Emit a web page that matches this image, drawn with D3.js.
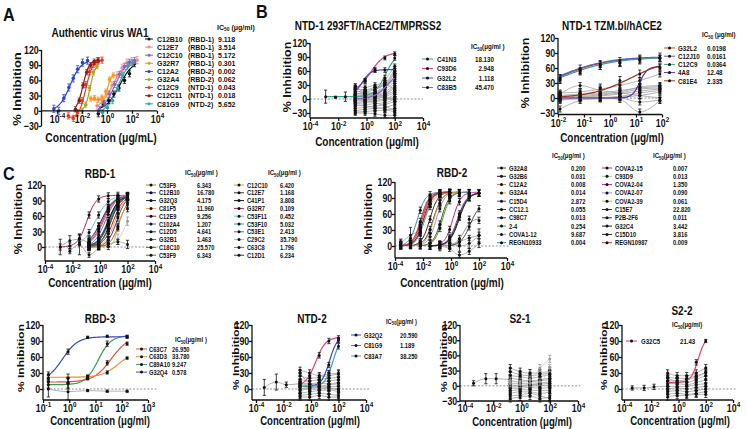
<!DOCTYPE html>
<html><head><meta charset="utf-8">
<script src="https://cdn.jsdelivr.net/npm/d3@7"></script>
<style>
body{margin:0;background:#fff;}
svg{display:block;font-family:"Liberation Sans",Arial,Helvetica,sans-serif;font-weight:bold;}
</style></head><body>
<svg id="c" width="747" height="429"></svg>
<script>
// ================= DATA =================
// shared dilution columns (μg/ml)
const dil5 = [0.16, 0.8, 4, 20, 100];
const dil8 = [0.00128, 0.0064, 0.032, 0.16, 0.8, 4, 20, 100];
const dil9 = [0.000256, 0.00128, 0.0064, 0.032, 0.16, 0.8, 4, 20, 100];
const tzmConc = [0.012, 0.071, 0.42, 2.4, 14, 83];
const rbd3Conc = [0.16, 0.9, 5, 28, 160];
const lowConc = [0.0004, 0.003, 0.016, 0.16];

// ---- Panel A: authentic virus WA1 ----
const aNames = ["C12B10","C12E7","C12C10","G32R7","C12A2","G32A4","C12C9","C12C11","C81G9"];
const aEpitope = ["(RBD-1)","(RBD-1)","(RBD-1)","(RBD-1)","(RBD-2)","(RBD-2)","(NTD-1)","(NTD-1)","(NTD-2)"];
const aIC50 = ["9.118","3.514","5.172","0.301","0.002","0.062","0.043","0.018","5.652"];
const aColors = ["#111111","#f08c8c","#7a6ad0","#f29a1e","#2a45c8","#a3a820","#e5391e","#8a1e12","#3aa3a3"];
const aBottom = [0,0,0,22,0,0,-14,0,-5];
const aTop = [100,102,102,72,100,92,100,100,100];
const aEC50 = [10,2.8,4.5,1.2,0.0011,0.045,0.02,0.012,7.1];
const aHill = [0.8,0.8,0.9,3,1.0,2.2,1.6,1.8,0.95];
const aConc = [
  [0.2,0.5,1.4,3.5,9,25,63,160],
  [0.16,0.4,1,2.5,6.3,16,40,100,250],
  [0.25,0.63,1.6,4,10,25,63,160],
  [0.05,0.1,0.2,0.4,0.8,1.6,3.2],
  [0.000056,0.00014,0.00035,0.00089,0.002,0.0045,0.011,0.028],
  [0.01,0.02,0.04,0.08,0.16],
  [0.0008,0.002,0.0045,0.01,0.02,0.04,0.089,0.2,0.4],
  [0.003,0.006,0.012,0.024,0.048,0.096,0.19],
  [0.45,1.1,2.8,7,18,45,112]
];
const aVals = [
  [-6,14,20,33,45,60,73,93],
  [10,22,33,50,70,85,95,98,100],
  [3,15,33,52,72,88,96,99],
  [24,25,22,26,38,62,70],
  [4,0,25,46,64,82,95,99],
  [0,12,45,76,88],
  [-10,-15,-4,20,52,77,92,98,100],
  [3,20,50,76,90,97,100],
  [-4,6,20,45,70,88,95]
];
const aSd = [6,7,6,5,7,5,6,5,6];

// ---- Panel B left: NTD-1 293FT/hACE2/TMPRSS2 ----
const bLNames = ["C41N3","C93D6","G32L2","C83B5"];
const bLIC50 = ["18.130","2.948","1.118","45.470"];
const bLColors = ["#3aa38c","#e0407a","#4a48c8","#8a64c8"];
const bLBottom = [5,15,5,0];
const bLTop = [100,100,63,62];
const bLEC50 = [22,2,0.45,32];
const bLHill = [1.1,0.9,1.4,0.9];
const bLConc = [dil8, dil5, dil5, dil5];
const bLVals = [[5,4,5,3,8,20,45,88],[25,40,62,88,97],[15,38,62,62,55],[0,5,18,35,52]];
const bLSd = [[14,2,10,5,5,6,6,5],4,5,6];
const bLGray = [
  [28,25,30,35,65],[22,20,25,32,60],[15,18,22,30,48],[12,12,15,25,42],[8,10,12,20,38],
  [5,8,10,15,33],[3,5,8,12,28],[0,2,5,10,24],[-3,0,3,8,18],[-5,-2,0,5,14],
  [-8,-5,-3,0,10],[-10,-8,-5,-3,5],[-15,-12,-10,-8,0],[-20,-18,-15,-12,-5],[-25,-22,-20,-18,-12],
  [-28,-27,-25,-24,-20],[-30,-30,-32,-35,-35],[5,5,10,40,70],[0,3,8,28,55],[10,15,20,30,20],
  [18,12,6,2,-2],[25,15,10,5,0],[-12,-15,-18,-22,-28],[2,-3,-8,-15,-25]
];

// ---- Panel B right: NTD-1 TZM.bl/hACE2 ----
const bRNames = ["G32L2","C12J10","C12C9","4A8","C81E4"];
const bRIC50 = ["0.0198","0.0161","0.0364","12.48","2.335"];
const bRColors = ["#e0481e","#5c5cd0","#3aa08c","#5a2fb0","#a0361a"];
const bRBottom = [0,0,0,0,0];
const bRTop = [82,83,82,63,80];
const bREC50 = [0.01,0.0089,0.0126,14,6.3];
const bRHill = [0.45,0.45,0.42,3,0.55];
const bRVals = [[40,55,67,70,78,80],[38,57,66,72,77,81],[36,52,63,70,76,79],[0,2,0,2,28,62],[5,8,20,35,48,60]];
const bRSd = [6,9,6,6,8];
const bRGray = [
  [10,12,18,25,35,48],[5,8,10,15,20,23],[0,3,6,10,18,20],[2,2,4,8,14,18],[-5,0,1,3,10,15],
  [0,1,0,-3,-28,-5],[-3,-2,-2,0,-8,-4],[3,5,8,12,22,25],[-22,-5,0,2,5,12],[8,25,15,10,5,0]
];

// ---- Panel C: RBD-1 ----
const r1Names = ["C53F9","C12B10","G32Q3","C81F5","C12E9","C102A4","C12D5","G32B1","C18C10","C53F9",
                 "C12C10","C12E7","C41P1","G32R7","C53F11","C53F10","C53E1","C29C2","C63C8","C12D1"];
const r1IC50 = ["6.343","16.780","4.175","11.960","9.256","1.207","4.641","1.463","25.570","6.343",
                "6.420","1.168","3.808","0.109","0.452","5.032","2.413","35.790","1.796","6.234"];
const r1Colors = ["#c87a28","#2b2f8f","#1a1a1a","#f0a040","#8e1b1b","#3d6fd6","#1f2d6e","#c2207f","#b24a22","#6b6b1e",
                  "#d8a838","#3a3a3a","#111111","#b01e5a","#74b6e6","#2f97a6","#4466cc","#cdb850","#e04848","#24357a"];
const r1EC50 = [6.3,16.6,4.2,12,9.3,1.2,4.7,1.5,25,6.3,6.5,1.17,3.8,0.11,0.46,5.0,2.4,20,1.8,6.2];
const r1Top = [100,100,100,98,100,100,100,100,95,100,100,100,100,100,100,100,100,75,100,100];
const r1Hill = [1.2,1.3,1.2,1.3,1.2,1.0,1.1,1.0,1.4,1.3,1.2,0.9,1.1,1.3,0.9,1.1,1.1,2.5,1.0,1.2];
const r1Start = [3,3,3,3,3,3,3,3,3,3,3,3,3,0,2,3,3,3,3,3];
const r1Vals = [
  [2,8,35,80,97],[0,2,14,56,91],[2,12,48,87,98],[1,3,19,65,92],[0,5,26,72,95],
  [12,40,77,94,99],[2,12,46,83,97],[10,35,73,93,99],[0,1,7,40,83],[1,7,35,82,98],
  [1,8,36,79,96],[14,41,75,93,98],[3,15,51,86,97],[0,2,17,62,93,99,100,100],[8,28,62,88,97,99],
  [2,11,44,82,96],[5,23,63,91,98],[0,0,1,37,74],[8,31,69,92,98],[1,8,36,80,96]
];
const r1GrayConc = [[0.00128,0.0064,0.032,0.16,0.8],[0.0064,0.032,0.16,0.8],dil5,dil5];
const r1GrayVals = [[0,12,15,8,5],[-8,5,-15,0],[0,2,5,15,50],[3,0,5,10,5]];
const r1GraySd = [[15,10,10,8,5],[5,20,5,5],[4,5,5,10,8],[5,5,5,5,8]];

// ---- Panel C: RBD-2 ----
const r2Names = ["G32A8","G32B6","C12A2","G32A4","C15D4","CC12.1","C98C7","2-4","COVA1-12","REGN10933",
                 "COVA2-15","C93D9","COVA2-04","COVA2-07","COVA2-39","C15E7","P2B-2F6","G32C4","C15D10","REGN10987"];
const r2IC50 = ["0.200","0.031","0.008","0.014","2.872","0.055","0.013","0.254","9.687","0.004",
                "0.007","0.013","1.350","0.090","0.061","22.820","0.011","3.442","3.816","0.009"];
const r2Colors = ["#4a4a20","#222222","#c8782a","#ee9438","#5b2fa6","#6e1c3c","#1e2c70","#3c9c3c","#8c8c8c","#2f8bb5",
                  "#d0205c","#a9c2a2","#c21e84","#9c92d4","#cbb236","#333333","#2e2e55","#1a1a1a","#262626","#d23232"];
const r2EC50 = [0.2,0.031,0.008,0.014,2.9,0.055,0.013,0.25,8,0.004,0.007,0.013,1.35,0.09,0.061,23,0.011,3.4,3.8,0.009];
const r2Top = [101,101,101,100,100,101,101,101,52,101,101,101,101,101,101,80,101,100,100,101];
const r2Hill = [1.5,1.5,1.5,1.3,1.3,1.4,1.5,1.5,1.5,1.5,1.5,1.5,1.5,1.5,1.5,1.3,1.5,1.3,1.3,1.5];
const r2Start = [2,1,0,0,3,1,0,2,4,0,0,0,3,2,1,5,0,3,3,0];
const r2Vals = [
  [1,6,41,89,99,100],[1,8,50,92,99,100],[3,8,38,88,100,101],[5,4,26,74,96,100],[0,2,16,60,92,99],
  [1,5,31,81,98,100],[0,3,26,80,98,100],[0,4,33,85,98,100],[0,2,14,50,48],[2,15,67,96,100,100],
  [1,7,46,91,99,100],[2,5,28,78,97,100],[0,4,31,83,98,100],[2,17,70,96,100,100],[1,4,24,79,97,100],
  [1,7,36,70],[0,3,24,78,97,100],[0,2,13,56,91,99],[0,2,12,54,90,99],[1,5,35,87,99,100]
];
const r2GrayConc = [dil5, dil5, [0.000256,0.00128,0.0064], dil5];
const r2GrayVals = [[0,-5,-17,-10,5],[-3,5,0,5,20],[5,20,28],[3,0,8,15,20]];
const r2GraySd = [[5,5,5,6,8],[6,8,10,10,12],[8,15,15],[5,5,5,5,6]];

// ---- RBD-3 ----
const r3Names = ["C63C7","C63D3","C89A10","G32Q4"];
const r3IC50 = ["26.950","33.780","9.247","0.578"];
const r3Colors = ["#e8502a","#f08a30","#3a9a5a","#3a48b8"];
const r3Bottom = [13,22,8,15];
const r3Top = [100,70,100,98];
const r3EC50 = [40,71,12.6,0.56];
const r3Hill = [1.3,1.4,1.8,1.5];
const r3Vals = [[13,12,22,49,85],[20,20,22,31,58],[8,10,21,85,98],[27,70,97,99,98]];
const r3Sd = [[5,10,4,4,3],[5,8,4,3,2],[6,10,4,5,3],[5,5,2,2,2]];
const r3GrayVals = [[0,-5,-3,-4,-4]];
const r3GraySd = [[15,15,2,2,2]];

// ---- NTD-2 ----
const n2Names = ["G32Q2","C81G9","C83A7"];
const n2IC50 = ["20.590","1.189","38.250"];
const n2Colors = ["#3a48c8","#e0407a","#40a0a0"];
const n2Bottom = [5,5,5];
const n2Top = [100,97,100];
const n2EC50 = [22,2.2,40];
const n2Hill = [1.5,1.2,1.5];
const n2Vals = [[8,5,12,45,92],[10,25,63,90,95],[5,3,8,30,80]];
const n2GrayLow = [3,13,8,10];
const n2GrayLowSd = [15,15,5,5];
const n2Gray = [[35,30,25,28,30],[25,20,22,25,28],[18,15,18,20,22],[12,10,12,15,18],[8,8,10,10,12],
  [5,3,5,8,10],[0,2,3,5,5],[-3,0,0,2,0],[-8,-5,-3,-2,-5],[-12,-10,-8,-10,-12],[-15,-15,-12,-15,-15],[30,10,5,2,-2]];

// ---- S2-1 ----
const s1GrayLow = [5,14,14,12];
const s1GrayLowSd = [5,10,10,8];
const s1Gray = [[35,28,25,25,30],[28,22,20,22,25],[20,18,15,18,22],[15,12,10,12,15],[10,8,8,10,12],
  [5,5,3,5,8],[2,0,2,3,5],[-2,-2,0,0,2],[-5,-5,-3,-5,-3],[-10,-8,-8,-10,-8],[-15,-12,-12,-15,-12],
  [-20,-18,-15,-20,-25],[-25,-22,-20,-25,-22],[10,8,12,35,53],[5,3,5,8,35]];

// ---- S2-2 ----
const s2Names = ["G32C5"];
const s2IC50 = ["21.43"];
const s2Colors = ["#e0407a"];
const s2Bottom = [12], s2Top = [100], s2EC50 = [28], s2Hill = [1.6];
const s2Vals = [[15,12,15,50,90]];
const s2GrayLow = [2,2,4,5];
const s2GrayLowSd = [4,5,5,8];
const s2Gray = [[30,25,25,30,40],[22,20,20,25,30],[15,15,12,18,25],[10,10,8,12,18],[5,5,5,8,10],
  [0,2,0,3,5],[-5,-3,-5,-3,0],[-10,-8,-10,-8,-5],[-15,-12,-12,-10,-10],[20,15,18,22,32]];

// ================= DRAWING =================
const svg = d3.select("#c");
const SX = 0.8;
const INK = "#111";

function txt(g, x, y, s, size, anchor, rot, sx) {
  const k = sx || SX;
  const t = g.append("text")
    .attr("transform", rot ? `translate(${x},${y}) rotate(-90) scale(1,${k})` : `translate(${x},${y}) scale(${k},1)`)
    .attr("font-size", size).attr("text-anchor", anchor || "start").attr("fill", INK);
  if (s !== null) t.text(s);
  return t;
}
function ic50Header(x, y, suffix, size, sx) {
  const t = txt(svg, x, y, null, size, "start", false, sx);
  t.append("tspan").text("IC");
  t.append("tspan").attr("font-size", size * 0.7).attr("dy", size * 0.25).text("50");
  t.append("tspan").attr("dy", -size * 0.25).text(suffix);
}
function fourPL(c, b, t, ec, h) { return b + (t - b) / (1 + Math.pow(ec / c, h)); }
function sdAt(sd, i) { return Array.isArray(sd) ? sd[i] : sd; }

function buildSeries(names, colors, bottoms, tops, ec50s, hills, concs, vals, sds) {
  return names.map((n, i) => ({
    name: n, color: colors[i], b: bottoms[i], t: tops[i], ec: ec50s[i], h: hills[i],
    conc: concs[i], vals: vals[i], sd: sds[i]
  }));
}

function drawPanel(p) {
  const g = svg.append("g");
  const x = d3.scaleLog().domain(p.xDom).range(p.xRng);
  const y = d3.scaleLinear().domain(p.yDom).range(p.yRng);
  const xEnd = p.xEnd || p.xRng[1];
  const xAxisY = p.xAxisAt0 ? y(0) : p.yBotPx;

  if (p.zero) {
    g.append("line").attr("x1", p.axX).attr("x2", p.zeroEnd || xEnd)
      .attr("y1", y(0)).attr("y2", y(0)).attr("stroke", "#777")
      .attr("stroke-width", 0.8).attr("stroke-dasharray", "2,1.6");
  }
  const line = d3.line().x(d => x(d[0])).y(d => y(d[1])).curve(d3.curveMonotoneX);
  const drawPts = (gg, conc, vals, sd, col, r) => {
    conc.forEach((c, i) => {
      const v = vals[i], e = sdAt(sd, i), cx = x(c);
      if (e > 0) {
        gg.append("line").attr("x1", cx).attr("x2", cx).attr("y1", y(v - e)).attr("y2", y(v + e)).attr("stroke", col).attr("stroke-width", 0.8);
        [v - e, v + e].forEach(w => gg.append("line").attr("x1", cx - 1.6).attr("x2", cx + 1.6).attr("y1", y(w)).attr("y2", y(w)).attr("stroke", col).attr("stroke-width", 0.8));
      }
      gg.append("circle").attr("cx", cx).attr("cy", y(v)).attr("r", r).attr("fill", col);
    });
  };
  (p.grays || []).forEach(gr => {
    g.append("path").datum(gr.conc.map((c, i) => [c, gr.vals[i]])).attr("d", line)
      .attr("fill", "none").attr("stroke", gr.light ? "#c8c8c8" : "#a0a0a0").attr("stroke-width", 0.8);
  });
  (p.grays || []).forEach(gr => drawPts(g, gr.conc, gr.vals, gr.sd, gr.light ? "#999" : INK, p.r || 1.5));
  p.series.forEach(s => {
    const lo = Math.log10(d3.min(s.conc)), hi = Math.log10(d3.max(s.conc));
    const pts = d3.range(0, 81).map(k => { const c = Math.pow(10, lo + (hi - lo) * k / 80); return [c, fourPL(c, s.b, s.t, s.ec, s.h)]; });
    g.append("path").datum(pts).attr("d", d3.line().x(d => x(d[0])).y(d => y(d[1])))
      .attr("fill", "none").attr("stroke", s.color).attr("stroke-width", p.lw || 1.2);
  });
  p.series.forEach(s => drawPts(g, s.conc, s.vals, s.sd, p.dotColor === "series" ? s.color : INK, p.r || 1.5));

  // axes
  const fs = p.tickSize || 11;
  const xa = d3.axisBottom(x).tickValues(p.xTicks.map(e => Math.pow(10, e))).tickSize(3).tickSizeOuter(0).tickPadding(p.xPad == null ? 1.5 : p.xPad)
    .tickFormat(() => "10");
  const gx = g.append("g").attr("transform", `translate(0,${xAxisY})`).call(xa);
  gx.select(".domain").remove();
  gx.append("line").attr("x1", p.axX).attr("x2", xEnd).attr("stroke", INK).attr("stroke-width", 1.3);
  gx.selectAll(".tick line").attr("stroke", INK).attr("stroke-width", 1.3);
  gx.selectAll(".tick text").attr("font-size", fs).attr("font-family", null).attr("fill", INK)
    .attr("transform", `scale(${SX},1)`)
    .each(function (d) {
      d3.select(this).append("tspan").attr("dy", -fs * 0.42).attr("font-size", fs * 0.72).text(String(Math.round(Math.log10(d))));
    });
  const ya = d3.axisLeft(y).tickValues(p.yTicks).tickSize(3).tickSizeOuter(0).tickPadding(0.5);
  const gy = g.append("g").attr("transform", `translate(${p.axX},0)`).call(ya);
  gy.select(".domain").remove();
  gy.append("line").attr("y1", y(120)).attr("y2", p.yBotPx).attr("stroke", INK).attr("stroke-width", 1.3);
  gy.selectAll(".tick line").attr("stroke", INK).attr("stroke-width", 1.3);
  gy.selectAll(".tick text").attr("font-size", fs).attr("font-family", null).attr("fill", INK)
    .attr("transform", `scale(${SX},1)`);

  txt(svg, p.tX, p.tY, p.title, p.titleSize || 12.5, "middle");
  txt(svg, p.xlX, p.xlY, "Concentration (μg/" + (p.mL ? "mL)" : "ml)"), p.labSize || 12.5, "middle");
  txt(svg, p.ylX, p.ylY, "% Inhibition", p.labSize || 12.5, "middle", true);
  return { x, y };
}

function legend(items, o) {
  items.forEach((it, i) => {
    const cy = o.y0 + i * o.dy;
    svg.append("line").attr("x1", o.lx0).attr("x2", o.lx1).attr("y1", cy).attr("y2", cy)
      .attr("stroke", it.color).attr("stroke-width", 1);
    svg.append("circle").attr("cx", (o.lx0 + o.lx1) / 2).attr("cy", cy).attr("r", o.r || 1.5)
      .attr("fill", o.dotSeries ? it.color : INK);
    txt(svg, o.nx, cy + o.size * 0.36, it.name, o.size, "start", false, o.sx);
    if (it.extra) txt(svg, o.ex, cy + o.size * 0.36, it.extra, o.size, "start", false, o.sx);
    txt(svg, o.vx, cy + o.size * 0.36, it.ic50, o.size, o.vAnchor || "start", false, o.sx);
  });
}
const items = (names, colors, ic) => names.map((n, i) => ({ name: n, color: colors[i], ic50: ic[i] }));

// ---- Panel letters ----
txt(svg, 3, 21, "A", 18, "start", false, 0.9);
txt(svg, 256, 18, "B", 18, "start", false, 0.9);
txt(svg, 3, 180, "C", 18, "start", false, 0.9);

// ---- Panel A ----
drawPanel({
  axX: 41.5, xDom: [1e-4, 1e4], xRng: [57, 157], xTicks: [-4, -2, 0, 2, 4],
  yDom: [-30, 120], yRng: [126, 50], yTicks: [-30, 0, 30, 60, 90, 120], yBotPx: 126, xAxisAt0: true,
  title: "Authentic virus WA1", tX: 100, tY: 37, xlX: 101, xlY: 141.5, mL: true, ylX: 21, ylY: 89,
  series: buildSeries(aNames, aColors, aBottom, aTop, aEC50, aHill, aConc, aVals, aSd),
  dotColor: "series", r: 1.8, titleSize: 12.5, labSize: 13
});
legend(aNames.map((n, i) => ({ name: n, color: aColors[i], ic50: aIC50[i], extra: aEpitope[i] })),
  { y0: 39, dy: 8.1, lx0: 145, lx1: 153, nx: 157, ex: 188, vx: 218, size: 7.6, sx: 0.92, dotSeries: true });
ic50Header(217, 29.5, " (μg/ml)", 7.8, 0.9);

// ---- Panel B left ----
drawPanel({
  axX: 310, xDom: [1e-4, 1e4], xRng: [310, 423], xTicks: [-4, -2, 0, 2, 4],
  yDom: [-30, 120], yRng: [113, 43], yTicks: [-30, 0, 30, 60, 90, 120], yBotPx: 118, zero: true,
  title: "NTD-1 293FT/hACE2/TMPRSS2", tX: 368, tY: 29.5, xlX: 367, xlY: 146, ylX: 291, ylY: 77,
  grays: bLGray.map(v => ({ conc: dil5, vals: v, sd: 5 })),
  series: buildSeries(bLNames, bLColors, bLBottom, bLTop, bLEC50, bLHill, bLConc, bLVals, bLSd)
});
legend(items(bLNames, bLColors, bLIC50), { y0: 59, dy: 9.5, lx0: 422, lx1: 433, nx: 437, vx: 494, vAnchor: "end", size: 7.8 });
ic50Header(471, 49, "(μg/ml )", 7.8);

// ---- Panel B right ----
drawPanel({
  axX: 558, xDom: [0.01, 100], xRng: [558, 662], xTicks: [-2, -1, 0, 1, 2],
  yDom: [-30, 120], yRng: [113, 38], yTicks: [-30, 0, 30, 60, 90, 120], yBotPx: 114.5, zero: true,
  title: "NTD-1 TZM.bl/hACE2", tX: 612, tY: 29.5, xlX: 612, xlY: 142, ylX: 529, ylY: 73,
  grays: bRGray.map(v => ({ conc: tzmConc, vals: v, sd: 6 })),
  series: buildSeries(bRNames, bRColors, bRBottom, bRTop, bREC50, bRHill, bRNames.map(() => tzmConc), bRVals, bRSd)
});
legend(items(bRNames, bRColors, bRIC50), { y0: 48, dy: 8.2, lx0: 664, lx1: 675, nx: 678, vx: 707, size: 7.5, sx: 0.83 });
ic50Header(702, 37, " (μg/ml)", 7.8);

// ---- RBD-1 ----
drawPanel({
  axX: 45, xDom: [1e-4, 1e4], xRng: [45, 155], xTicks: [-4, -2, 0, 2, 4],
  yDom: [0, 120], yRng: [247, 185], yTicks: [0, 30, 60, 90, 120], yBotPx: 261, zero: true, zeroEnd: 158,
  title: "RBD-1", tX: 100, tY: 177.5, xlX: 100, xlY: 287, ylX: 22, ylY: 219,
  grays: r1GrayVals.map((v, i) => ({ conc: r1GrayConc[i], vals: v, sd: r1GraySd[i], light: i === 2 })),
  series: buildSeries(r1Names, r1Colors, r1Names.map(() => 0), r1Top, r1EC50, r1Hill,
    r1Start.map((s, i) => dil8.slice(s, s + r1Vals[i].length)), r1Vals, r1Names.map(() => 6)),
  lw: 1
});
legend(items(r1Names.slice(0, 10), r1Colors.slice(0, 10), r1IC50.slice(0, 10)), { y0: 185, dy: 7.8, lx0: 146, lx1: 156, nx: 159, vx: 197, size: 7.1 });
legend(items(r1Names.slice(10), r1Colors.slice(10), r1IC50.slice(10)), { y0: 185, dy: 7.8, lx0: 234, lx1: 244, nx: 247, vx: 280, size: 7.1 });
ic50Header(185, 175, "(μg/ml )", 7.6);
ic50Header(268, 175, "(μg/ml )", 7.6);

// ---- RBD-2 ----
drawPanel({
  axX: 395, xDom: [1e-4, 1e4], xRng: [395, 507], xTicks: [-4, -2, 0, 2, 4],
  yDom: [0, 120], yRng: [246, 182], yTicks: [0, 30, 60, 90, 120], yBotPx: 258, zero: true, zeroEnd: 510,
  title: "RBD-2", tX: 452, tY: 176.5, xlX: 452, xlY: 287, ylX: 372, ylY: 219,
  grays: r2GrayVals.map((v, i) => ({ conc: r2GrayConc[i], vals: v, sd: r2GraySd[i] })),
  series: buildSeries(r2Names, r2Colors, r2Names.map(() => 0), r2Top, r2EC50, r2Hill,
    r2Start.map((s, i) => dil9.slice(s, s + r2Vals[i].length)), r2Vals, r2Names.map(() => 6)),
  lw: 1
});
legend(items(r2Names.slice(0, 10), r2Colors.slice(0, 10), r2IC50.slice(0, 10)), { y0: 168, dy: 8.3, lx0: 497, lx1: 506, nx: 509, vx: 571, size: 7.2 });
legend(items(r2Names.slice(10), r2Colors.slice(10), r2IC50.slice(10)), { y0: 168, dy: 8.3, lx0: 602, lx1: 612, nx: 615, vx: 673, size: 7.2 });
ic50Header(552, 158, "(μg/ml )", 7.6);
ic50Header(653, 158, "(μg/ml )", 7.6);

// ---- RBD-3 ----
drawPanel({
  axX: 43, xDom: [0.1, 1000], xRng: [43, 148], xTicks: [-1, 0, 1, 2, 3],
  yDom: [0, 120], yRng: [389, 325], yTicks: [0, 30, 60, 90, 120], yBotPx: 400, zero: true, zeroEnd: 157,
  title: "RBD-3", tX: 100, tY: 322.5, xlX: 100, xlY: 425, ylX: 24, ylY: 358, labSize: 12, xPad: 1,
  grays: r3GrayVals.map((v, i) => ({ conc: rbd3Conc, vals: v, sd: r3GraySd[i] })),
  series: buildSeries(r3Names, r3Colors, r3Bottom, r3Top, r3EC50, r3Hill, r3Names.map(() => rbd3Conc), r3Vals, r3Sd)
});
legend(items(r3Names, r3Colors, r3IC50), { y0: 349, dy: 7.7, lx0: 136, lx1: 147, nx: 149, vx: 172, size: 7.2 });
ic50Header(175, 342, "(μg/ml )", 7.4);

// ---- NTD-2 ----
drawPanel({
  axX: 252, xDom: [1e-4, 1e4], xRng: [256, 366], xTicks: [-4, -2, 0, 2, 4],
  yDom: [0, 120], yRng: [389, 325], yTicks: [0, 30, 60, 90, 120], yBotPx: 400, zero: true, zeroEnd: 370,
  title: "NTD-2", tX: 312, tY: 322.5, xlX: 310, xlY: 425, ylX: 239, ylY: 356, labSize: 12, xPad: 1,
  grays: [{ conc: lowConc, vals: n2GrayLow, sd: n2GrayLowSd }].concat(n2Gray.map(v => ({ conc: dil5, vals: v, sd: 6 }))),
  series: buildSeries(n2Names, n2Colors, n2Bottom, n2Top, n2EC50, n2Hill, n2Names.map(() => dil5), n2Vals, [5, 5, 5])
});
legend(items(n2Names, n2Colors, n2IC50), { y0: 335, dy: 10.5, lx0: 351, lx1: 361, nx: 364, vx: 400, size: 7.2 });
ic50Header(386, 323.5, "(μg/ml )", 7.2);

// ---- S2-1 ----
drawPanel({
  axX: 460, xDom: [1e-4, 1e4], xRng: [465, 578], xTicks: [-4, -2, 0, 2, 4],
  yDom: [-30, 120], yRng: [401, 325], yTicks: [-30, 0, 30, 60, 90, 120], yBotPx: 401, zero: true, zeroEnd: 580,
  title: "S2-1", tX: 520, tY: 322.5, xlX: 522, xlY: 425.5, ylX: 447, ylY: 358, labSize: 12, xPad: 0.5,
  grays: [{ conc: lowConc, vals: s1GrayLow, sd: s1GrayLowSd }].concat(s1Gray.map((v, i) => ({ conc: dil5, vals: v, sd: 7, light: i >= 13 }))),
  series: []
});

// ---- S2-2 ----
drawPanel({
  axX: 622, xDom: [1e-4, 1e4], xRng: [624, 733], xTicks: [-4, -2, 0, 2, 4],
  yDom: [0, 120], yRng: [389, 325], yTicks: [0, 30, 60, 90, 120], yBotPx: 400, zero: true, zeroEnd: 737,
  title: "S2-2", tX: 682, tY: 314.5, xlX: 680, xlY: 425, ylX: 607, ylY: 356, labSize: 12, xPad: 1,
  grays: [{ conc: lowConc, vals: s2GrayLow, sd: s2GrayLowSd }].concat(s2Gray.map(v => ({ conc: dil5, vals: v, sd: 6 }))),
  series: buildSeries(s2Names, s2Colors, s2Bottom, s2Top, s2EC50, s2Hill, [dil5], s2Vals, [[10, 10, 10, 5, 3]])
});
legend(items(s2Names, s2Colors, s2IC50), { y0: 341, dy: 8, lx0: 626, lx1: 637, nx: 641, vx: 680, size: 7.6 });
ic50Header(672, 327, "(μg/ml)", 7.4);
</script>
</body></html>
